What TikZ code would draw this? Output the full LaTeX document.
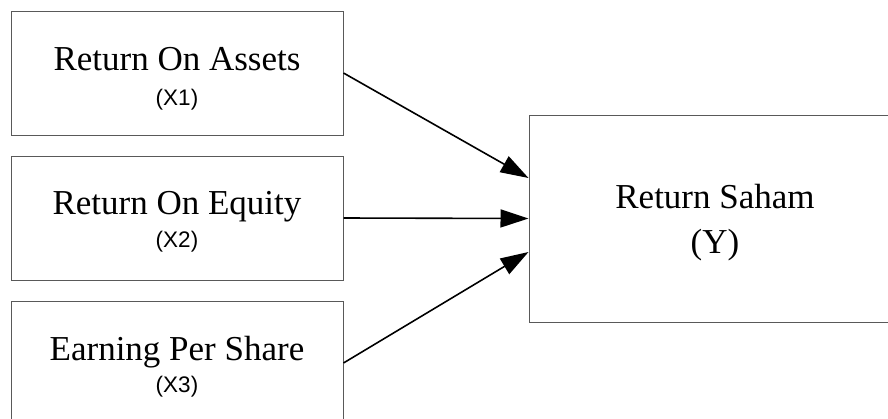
\documentclass[tikz,border=0pt]{standalone}
\usepackage{fontspec}
\setmainfont{Liberation Serif}
\newfontfamily\arialf{Liberation Sans}
\usetikzlibrary{arrows.meta}
\begin{document}
\begin{tikzpicture}[x=1pt,y=-1pt,
  boxnode/.style={draw=black!65,line width=1pt,rectangle,inner sep=0pt,fill=white},
  bigtext/.style={anchor=base,inner sep=0pt,font=\fontsize{35}{38}\selectfont},
  smalltext/.style={anchor=base,inner sep=0pt,font=\arialf\fontsize{22.5}{25}\selectfont},
  arr/.style={line width=1.6pt,-{Triangle[length=28pt,width=18pt]}}]
\useasboundingbox (0,0) rectangle (888,418);
\fill[white] (0,0) rectangle (888,418);
\node[boxnode,minimum width=332pt,minimum height=124pt] (b1) at (177,73) {};
\node[boxnode,minimum width=332pt,minimum height=124pt] (b2) at (177,218) {};
\node[boxnode,minimum width=332pt,minimum height=124pt] (b3) at (177,363) {};
\node[boxnode,minimum width=366pt,minimum height=207pt] (y) at (712,218.5) {};
\node[bigtext] (t1) at (177,70) {Return On Assets};
\node[smalltext] (s1) at (177,105) {(X1)};
\node[bigtext] (t2) at (177,214) {Return On Equity};
\node[smalltext] (s2) at (177,247) {(X2)};
\node[bigtext] (t3) at (177,360) {Earning Per Share};
\node[smalltext] (s3) at (177,392) {(X3)};
\node[bigtext] (ty) at (715,208) {Return Saham};
\node[bigtext] (sy) at (715,253) {(Y)};
\coordinate (e1) at ([yshift=40.5pt]y.west);
\coordinate (e2) at (y.west);
\coordinate (e3) at ([yshift=-33.5pt]y.west);
\draw[arr] (b1.east) -- (e1);
\draw[arr] (b2.east) -- (e2);
\draw[arr] (b3.east) -- (e3);
\end{tikzpicture}
\end{document}
